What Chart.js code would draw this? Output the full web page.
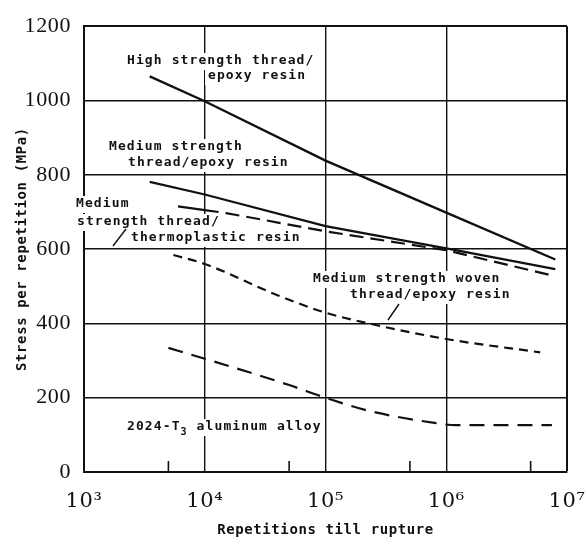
<!DOCTYPE html>
<html>
<head>
<meta charset="utf-8">
<script src="https://cdn.jsdelivr.net/npm/chart.js@4.4.1/dist/chart.umd.min.js"></script>
<style>
  html, body { margin: 0; padding: 0; background: #fff; }
  #wrap { width: 588px; height: 544px; }
</style>
</head>
<body>
<div id="wrap"><canvas id="chart" width="588" height="544"></canvas></div>
<script>
// repetitions till rupture (x) and stress in MPa (y)
const highX = [3.5e3, 1e4, 1e5, 1e6, 8e6];
const highY = [1065, 998, 838, 698, 572];

const medEpoxyX = [3.5e3, 1e4, 1e5, 1e6, 8e6];
const medEpoxyY = [781, 747, 662, 602, 546];

const thermoX = [6e3, 1e4, 1.5e4, 1e5, 1e6, 8e6];
const thermoY = [715, 705, 697, 648, 597, 527];

const wovenX = [5.5e3, 1e4, 4e4, 1e5, 2.5e5, 1e6, 6e6];
const wovenY = [584, 560, 476, 429, 397, 358, 322];

const aluX = [5e3, 1e4, 5e4, 1e5, 2.2e5, 8e5, 1.2e6, 7.5e6];
const aluY = [334, 305, 234, 200, 166, 132, 126, 126];

const xTickValues = [1e3, 5e3, 1e4, 5e4, 1e5, 5e5, 1e6, 5e6, 1e7];
const supDigits = { 3: '\u00B3', 4: '\u2074', 5: '\u2075', 6: '\u2076', 7: '\u2077' };

// labels written on the plot (pixel anchors: left edge, middle)
const notes = [
  { parts: ['High strength thread/'], x: 127, y: 61 },
  { parts: ['epoxy resin'], x: 208, y: 76 },
  { parts: ['Medium strength'], x: 109, y: 147 },
  { parts: ['thread/epoxy resin'], x: 128, y: 163 },
  { parts: ['Medium'], x: 76, y: 204 },
  { parts: ['strength thread/'], x: 77, y: 222 },
  { parts: ['thermoplastic resin'], x: 131, y: 238 },
  { parts: ['Medium strength woven'], x: 313, y: 279 },
  { parts: ['thread/epoxy resin'], x: 350, y: 295 },
  { parts: ['2024-T', { sub: '3' }, ' aluminum alloy'], x: 127, y: 427 }
];
const leaders = [[113, 246, 126, 229], [388, 320, 399, 304]];

const noteFont = 'bold 13px "DejaVu Sans Mono"';
const subFont = 'bold 10px "DejaVu Sans Mono"';

const isDecade = v => Math.abs(Math.log10(v) - Math.round(Math.log10(v))) < 1e-9;

function toPoints(xs, ys) {
  return xs.map((x, i) => ({ x: x, y: ys[i] }));
}

function series(label, xs, ys, dash, width, extra) {
  return Object.assign({
    label: label,
    data: toPoints(xs, ys),
    borderColor: '#111',
    borderWidth: width,
    borderDash: dash,
    pointRadius: 0,
    fill: false,
    tension: 0
  }, extra || {});
}

const notesPlugin = {
  id: 'notes',
  beforeDraw(chart) {
    chart.ctx.letterSpacing = '0.6px';
  },
  beforeDatasetsDraw(chart) {
    const ctx = chart.ctx;
    const x = chart.scales.x;
    const area = chart.chartArea;
    ctx.save();
    // short inside ticks at 5 x 10^n
    ctx.strokeStyle = '#111';
    ctx.lineWidth = 1.6;
    xTickValues.filter(v => !isDecade(v)).forEach(v => {
      const px = x.getPixelForValue(v);
      ctx.beginPath();
      ctx.moveTo(px, area.bottom);
      ctx.lineTo(px, area.bottom - 11);
      ctx.stroke();
    });

    ctx.font = noteFont;
    ctx.letterSpacing = '1.1px';
    ctx.textBaseline = 'middle';
    ctx.textAlign = 'left';
    notes.forEach(n => {
      let w = 0;
      n.parts.forEach(p => {
        if (typeof p === 'string') { w += ctx.measureText(p).width; }
        else { ctx.font = subFont; w += ctx.measureText(p.sub).width; ctx.font = noteFont; }
      });
      ctx.fillStyle = '#fff';
      ctx.fillRect(n.x - 3, n.y - 8, w + 6, 17);
      ctx.fillStyle = '#111';
      let cx = n.x;
      n.parts.forEach(p => {
        if (typeof p === 'string') {
          ctx.fillText(p, cx, n.y);
          cx += ctx.measureText(p).width;
        } else {
          ctx.font = subFont;
          ctx.fillText(p.sub, cx, n.y + 5);
          cx += ctx.measureText(p.sub).width;
          ctx.font = noteFont;
        }
      });
    });

    ctx.lineWidth = 1.4;
    leaders.forEach(l => {
      ctx.beginPath();
      ctx.moveTo(l[0], l[1]);
      ctx.lineTo(l[2], l[3]);
      ctx.stroke();
    });
    ctx.restore();
  }
};

new Chart(document.getElementById('chart'), {
  type: 'line',
  data: {
    datasets: [
      series('High strength thread/epoxy resin', highX, highY, [], 2.4),
      series('Medium strength thread/epoxy resin', medEpoxyX, medEpoxyY, [], 2.2),
      series('Medium strength thread/thermoplastic resin', thermoX, thermoY, [14, 7], 2.2, {
        segment: { borderDash: c => c.p0DataIndex === 0 ? [] : [14, 7] }
      }),
      series('Medium strength woven thread/epoxy resin', wovenX, wovenY, [9, 6], 2.2, { cubicInterpolationMode: 'monotone' }),
      series('2024-T3 aluminum alloy', aluX, aluY, [15, 9], 2.2, { cubicInterpolationMode: 'monotone' })
    ]
  },
  options: {
    responsive: false,
    animation: false,
    layout: { padding: { top: 19, right: 21, left: 0, bottom: 0 } },
    plugins: {
      legend: { display: false },
      tooltip: { enabled: false }
    },
    scales: {
      x: {
        type: 'logarithmic',
        min: 1e3,
        max: 1e7,
        afterBuildTicks: scale => {
          scale.ticks = xTickValues.map(v => ({ value: v }));
        },
        afterFit: scale => { scale.height = 72; },
        border: { display: true, color: '#111', width: 2 },
        grid: {
          drawTicks: true,
          tickLength: 17,
          tickColor: 'rgba(0,0,0,0)',
          color: c => isDecade(c.tick.value) ? '#111' : 'rgba(0,0,0,0)',
          lineWidth: c => c.tick.value === 1e7 ? 2 : 1.4
        },
        ticks: {
          autoSkip: false,
          maxRotation: 0,
          padding: 0,
          color: '#111',
          font: { family: '"DejaVu Serif"', size: 21 },
          callback: v => isDecade(v) ? '10' + supDigits[Math.round(Math.log10(v))] : ''
        },
        title: {
          display: true,
          text: 'Repetitions till rupture',
          color: '#111',
          font: { family: '"DejaVu Sans Mono"', size: 14, weight: 'bold' },
          padding: { top: 0, bottom: 5 }
        }
      },
      y: {
        min: 0,
        max: 1200,
        afterFit: scale => { scale.width = 84; },
        border: { display: true, color: '#111', width: 2 },
        grid: {
          drawTicks: false,
          color: '#111',
          lineWidth: c => c.tick.value === 1200 ? 2 : 1.4
        },
        ticks: {
          stepSize: 200,
          padding: 13,
          color: '#111',
          font: { family: '"Liberation Serif"', size: 22 },
          callback: v => String(v)
        },
        title: {
          display: true,
          text: 'Stress per repetition (MPa)',
          color: '#111',
          font: { family: '"DejaVu Sans Mono"', size: 14, weight: 'bold' },
          padding: { top: 14, bottom: 0 }
        }
      }
    }
  },
  plugins: [notesPlugin]
});
</script>
</body>
</html>
